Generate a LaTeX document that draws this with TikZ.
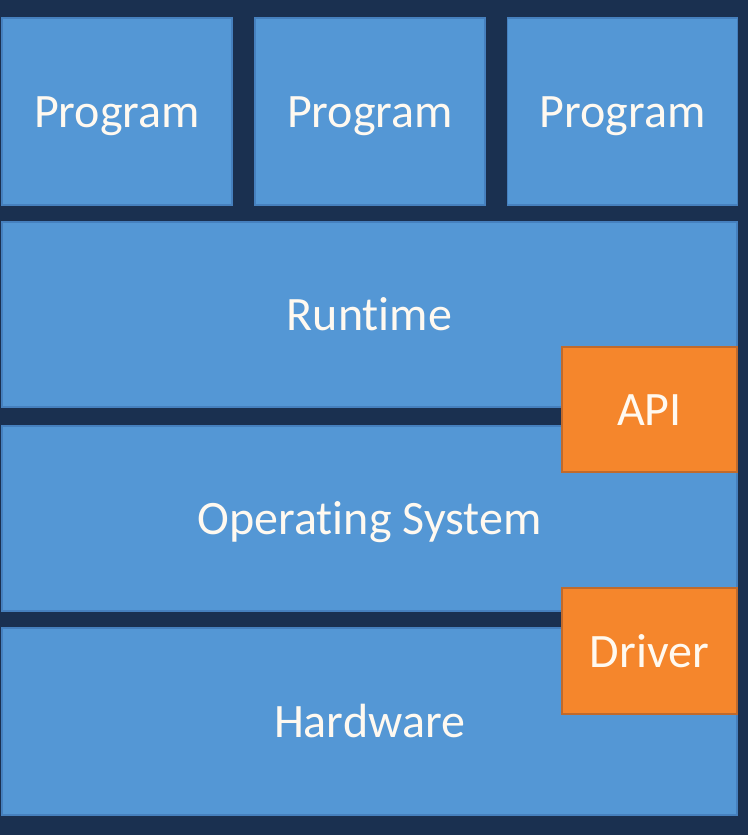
\documentclass[tikz,border=0pt]{standalone}
\usepackage{fontspec}
\setmainfont{Carlito}[Ligatures=NoCommon]
\usetikzlibrary{positioning}

\definecolor{navy}{HTML}{1A3050}
\definecolor{layerblue}{HTML}{5497D5}
\definecolor{layeredge}{HTML}{4680BE}
\definecolor{plugorange}{HTML}{F5862C}
\definecolor{plugedge}{HTML}{C06A2C}
\definecolor{labelwhite}{HTML}{FFF9F0}

\tikzset{
    layer/.style={rectangle, fill=layerblue, draw=layeredge, line width=1.5pt,
        inner sep=0pt, outer sep=0pt, text=labelwhite,
        text height=32pt, text depth=0pt,
        font=\fontsize{48}{57}\selectfont},
    plug/.style={layer, fill=plugorange, draw=plugedge},
}

\begin{document}
\begin{tikzpicture}[x=1pt,y=-1pt]
        % Background
        \fill[navy] (0,0) rectangle (748,835);
        \useasboundingbox (0,0) rectangle (748,835);
        % Programs
        \foreach \name/\x in {progA/117, progB/370, progC/622.5}
            \node[layer, minimum width=230pt, minimum height=187pt] (\name) at (\x,111.5) {Program};
        % Layers
        \node[layer, minimum width=735pt, minimum height=185pt] (runtime) at (369.5,314.5) {Runtime};
        \node[layer, minimum width=735pt, minimum height=185pt] (os) at (369.5,518.5) {Operating System};
        \node[layer, minimum width=735pt, minimum height=187pt] (hardware) at (369.5,721.5) {Hardware};
        % Interfaces
        \node[plug, minimum width=175pt, minimum height=125pt] (api) at (649.5,409.5) {API};
        \node[plug, minimum width=175pt, minimum height=126pt] (driver) at (649.5,651) {Driver};
    \end{tikzpicture}
\end{document}
